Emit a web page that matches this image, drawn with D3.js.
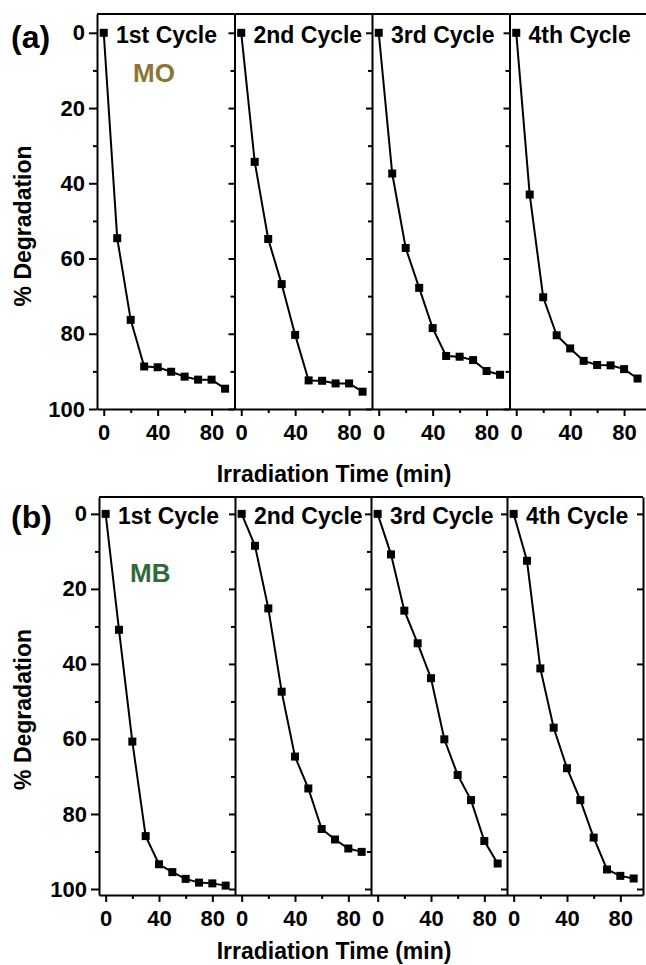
<!DOCTYPE html>
<html>
<head>
<meta charset="utf-8">
<script src="https://cdn.jsdelivr.net/npm/d3@7"></script>
<style>
  body { margin: 0; background: #fff; }
  svg { display: block; font-family: "Liberation Sans", Arial, sans-serif; font-weight: bold; }
  .axis path, .axis line { stroke: #000; stroke-width: 2; }
  .axis text { font-family: "Liberation Sans", Arial, sans-serif; font-weight: bold; fill: #000; }
</style>
</head>
<body>
<div class="canvas"></div>
<script>
// data (time in min, % degradation)
const times = [0, 10, 20, 30, 40, 50, 60, 70, 80, 90];
const cycles = ["1st Cycle", "2nd Cycle", "3rd Cycle", "4th Cycle"];
const yTicks = [0, 20, 40, 60, 80, 100];
const xTicks = [0, 40, 80];

const mo1 = [0, 54.6, 76.3, 88.7, 88.9, 90.1, 91.4, 92.2, 92.2, 94.6];
const mo2 = [0, 34.3, 54.8, 66.8, 80.3, 92.4, 92.5, 93.2, 93.2, 95.4];
const mo3 = [0, 37.4, 57.2, 67.8, 78.5, 85.9, 86.1, 87.0, 89.9, 90.9];
const mo4 = [0, 43.0, 70.3, 80.4, 83.9, 87.2, 88.3, 88.4, 89.4, 91.9];

const mb1 = [0, 30.9, 60.7, 85.9, 93.4, 95.5, 97.3, 98.3, 98.5, 99.1];
const mb2 = [0, 8.5, 25.2, 47.4, 64.7, 73.2, 84.0, 86.8, 89.2, 90.1];
const mb3 = [0, 10.8, 25.8, 34.5, 43.8, 60.1, 69.6, 76.3, 87.2, 93.2];
const mb4 = [0, 12.5, 41.2, 57.0, 67.8, 76.3, 86.3, 94.8, 96.5, 97.2];

// main svg
const w = 646;
const h = 965;
const svg = d3.select(".canvas").append("svg").attr("width", w).attr("height", h);

// one row per dye
const rows = [
  {
    tag: "(a)", dye: "MO", dyeColor: "#8c7433", series: [mo1, mo2, mo3, mo4],
    top: 14, bottom: 409, left: 97, pw: 137.5, yDomain: [-5, 100],
    tagY: 15, dyeX: 133, dyeY: 49, xLabelY: 482, rightAxis: false
  },
  {
    tag: "(b)", dye: "MB", dyeColor: "#2e6a3a", series: [mb1, mb2, mb3, mb4],
    top: 497, bottom: 895, left: 99, pw: 136, yDomain: [-4.5, 101.6],
    tagY: 14, dyeX: 130, dyeY: 68, xLabelY: 959, rightAxis: true
  }
];

rows.forEach((row) => {
  const ph = row.bottom - row.top;
  const y = d3.scaleLinear().domain(row.yDomain).range([0, ph]);
  const x = d3.scaleLinear().domain([-5, 97]).range([0, row.pw]);
  const y0 = row.top + y(0);

  row.series.forEach((vals, i) => {
    const g = svg.append("g").attr("transform", `translate(${row.left + i * row.pw}, ${row.top})`);

    // minor y ticks
    g.append("g")
      .attr("class", "axis")
      .call(d3.axisLeft(y).tickValues([10, 30, 50, 70, 90]).tickSize(4).tickFormat(""))
      .select(".domain").remove();

    // major y ticks + spine
    g.append("g")
      .attr("class", "axis")
      .call(
        d3.axisLeft(y).tickValues(yTicks).tickSize(i === 0 ? 8 : 6).tickSizeOuter(0)
          .tickFormat(i === 0 ? d3.format("d") : "")
      )
      .call((a) => a.selectAll("text").attr("font-size", 22).attr("dx", "-1"));

    // x axis
    const xg = g.append("g").attr("class", "axis").attr("transform", `translate(0, ${ph})`);
    xg.call(d3.axisBottom(x).tickValues([20, 60]).tickSize(4).tickFormat(""))
      .select(".domain").remove();
    xg.append("g")
      .call(d3.axisBottom(x).tickValues(xTicks).tickSize(7).tickSizeOuter(0).tickFormat(d3.format("d")))
      .call((a) => a.selectAll("text").attr("font-size", 22).attr("dy", "0.95em"));

    // top spine
    g.append("line")
      .attr("x1", 0).attr("x2", row.pw).attr("y1", 0).attr("y2", 0)
      .attr("stroke", "#000").attr("stroke-width", 2);

    // right axis on last panel
    if (i === 3 && row.rightAxis) {
      g.append("g")
        .attr("class", "axis")
        .attr("transform", `translate(${row.pw}, 0)`)
        .call(d3.axisLeft(y).tickValues(yTicks).tickSize(-6).tickSizeOuter(0).tickFormat(""))
        .call((a) => a.selectAll(".tick line").attr("x2", -6));
    }

    // cycle label
    g.append("text")
      .attr("x", 19)
      .attr("y", y(0) + 10)
      .attr("font-size", 23)
      .text(cycles[i]);

    // line + square markers
    const pts = times.map((t, k) => [t, vals[k]]);
    g.append("path")
      .datum(pts)
      .attr("fill", "none")
      .attr("stroke", "#000")
      .attr("stroke-width", 2)
      .attr("d", d3.line().x((d) => x(d[0])).y((d) => y(d[1])));

    g.selectAll("rect.pt")
      .data(pts)
      .enter()
      .append("rect")
      .attr("class", "pt")
      .attr("x", (d) => x(d[0]) - 4)
      .attr("y", (d) => y(d[1]) - 4)
      .attr("width", 8)
      .attr("height", 8)
      .attr("fill", "#000");
  });

  // panel tag
  svg.append("text")
    .attr("x", 11)
    .attr("y", y0 + row.tagY)
    .attr("font-size", 32)
    .text(row.tag);

  // dye name
  svg.append("text")
    .attr("x", row.dyeX)
    .attr("y", y0 + row.dyeY)
    .attr("font-size", 26)
    .attr("fill", row.dyeColor)
    .text(row.dye);

  // y label
  svg.append("text")
    .attr("transform", `translate(31, ${(y0 + row.bottom) / 2 + 5}) rotate(-90)`)
    .attr("text-anchor", "middle")
    .attr("font-size", 23)
    .text("% Degradation");

  // x label
  svg.append("text")
    .attr("x", 334)
    .attr("y", row.xLabelY)
    .attr("text-anchor", "middle")
    .attr("font-size", 23)
    .text("Irradiation Time (min)");
});
</script>
</body>
</html>
